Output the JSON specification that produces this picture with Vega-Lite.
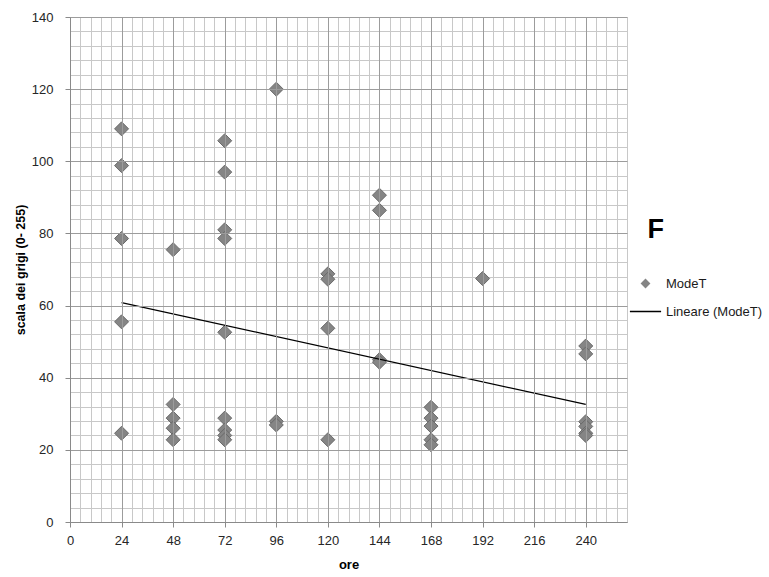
{
  "$schema": "https://vega.github.io/schema/vega-lite/v6.json",
  "width": 557,
  "height": 505,
  "autosize": {"type": "none"},
  "padding": {"left": 70, "top": 17, "right": 142, "bottom": 55},
  "background": "white",
  "config": {"view": {"stroke": null}, "font": "Liberation Sans"},
  "title": {"text": "F", "orient": "top", "anchor": "end", "frame": "group", "fontSize": 27, "fontWeight": "bold", "color": "#000000", "dx": 37, "dy": 260, "offset": 0, "baseline": "bottom"},
  "datasets": {
    "mode": [
      {"ore": 24, "valore": 109, "serie": "ModeT"},
      {"ore": 24, "valore": 98.8, "serie": "ModeT"},
      {"ore": 24, "valore": 78.6, "serie": "ModeT"},
      {"ore": 24, "valore": 55.5, "serie": "ModeT"},
      {"ore": 24, "valore": 24.6, "serie": "ModeT"},
      {"ore": 48, "valore": 75.5, "serie": "ModeT"},
      {"ore": 48, "valore": 32.6, "serie": "ModeT"},
      {"ore": 48, "valore": 28.8, "serie": "ModeT"},
      {"ore": 48, "valore": 26, "serie": "ModeT"},
      {"ore": 48, "valore": 22.8, "serie": "ModeT"},
      {"ore": 72, "valore": 105.7, "serie": "ModeT"},
      {"ore": 72, "valore": 97, "serie": "ModeT"},
      {"ore": 72, "valore": 81, "serie": "ModeT"},
      {"ore": 72, "valore": 78.6, "serie": "ModeT"},
      {"ore": 72, "valore": 52.6, "serie": "ModeT"},
      {"ore": 72, "valore": 28.8, "serie": "ModeT"},
      {"ore": 72, "valore": 25.5, "serie": "ModeT"},
      {"ore": 72, "valore": 24, "serie": "ModeT"},
      {"ore": 72, "valore": 22.8, "serie": "ModeT"},
      {"ore": 96, "valore": 120, "serie": "ModeT"},
      {"ore": 96, "valore": 27.9, "serie": "ModeT"},
      {"ore": 96, "valore": 26.9, "serie": "ModeT"},
      {"ore": 120, "valore": 68.8, "serie": "ModeT"},
      {"ore": 120, "valore": 67.3, "serie": "ModeT"},
      {"ore": 120, "valore": 53.7, "serie": "ModeT"},
      {"ore": 120, "valore": 22.8, "serie": "ModeT"},
      {"ore": 144, "valore": 90.6, "serie": "ModeT"},
      {"ore": 144, "valore": 86.4, "serie": "ModeT"},
      {"ore": 144, "valore": 45, "serie": "ModeT"},
      {"ore": 144, "valore": 44.3, "serie": "ModeT"},
      {"ore": 168, "valore": 31.8, "serie": "ModeT"},
      {"ore": 168, "valore": 28.8, "serie": "ModeT"},
      {"ore": 168, "valore": 26.6, "serie": "ModeT"},
      {"ore": 168, "valore": 22.8, "serie": "ModeT"},
      {"ore": 168, "valore": 21.4, "serie": "ModeT"},
      {"ore": 192, "valore": 67.5, "serie": "ModeT"},
      {"ore": 240, "valore": 48.8, "serie": "ModeT"},
      {"ore": 240, "valore": 46.6, "serie": "ModeT"},
      {"ore": 240, "valore": 27.8, "serie": "ModeT"},
      {"ore": 240, "valore": 26.5, "serie": "ModeT"},
      {"ore": 240, "valore": 24.6, "serie": "ModeT"},
      {"ore": 240, "valore": 24, "serie": "ModeT"}
    ],
    "trend": [
      {"ore": 24, "valore": 60.8, "serie": "Lineare (ModeT)"},
      {"ore": 240, "valore": 32.6, "serie": "Lineare (ModeT)"}
    ]
  },
  "layer": [
    {
      "data": {"name": "mode"},
      "mark": {"type": "point", "filled": true, "size": 196, "opacity": 1, "stroke": "#6a6a6a", "strokeWidth": 1},
      "encoding": {
        "x": {
          "field": "ore", "type": "quantitative",
          "scale": {"domain": [0, 259.2], "nice": false, "zero": false},
          "axis": {"orient": "bottom", "values": [0,4.8,9.6,14.4,19.2,24,28.8,33.6,38.4,43.2,48,52.8,57.6,62.4,67.2,72,76.8,81.6,86.4,91.2,96,100.8,105.6,110.4,115.2,120,124.8,129.6,134.4,139.2,144,148.8,153.6,158.4,163.2,168,172.8,177.6,182.4,187.2,192,196.8,201.6,206.4,211.2,216,220.8,225.6,230.4,235.2,240,244.8,249.6,254.4,259.2],
            "grid": true, "gridColor": "#c8c8c8", "gridWidth": 1, "gridOpacity": 1, "labels": false, "ticks": false, "domain": false, "title": null, "zindex": 0}
        },
        "y": {
          "field": "valore", "type": "quantitative",
          "scale": {"domain": [0, 140], "nice": false, "zero": false},
          "axis": {"orient": "left", "values": [0,4,8,12,16,20,24,28,32,36,40,44,48,52,56,60,64,68,72,76,80,84,88,92,96,100,104,108,112,116,120,124,128,132,136,140],
            "grid": true, "gridColor": "#c8c8c8", "gridWidth": 1, "gridOpacity": 1, "labels": false, "ticks": false, "domain": false, "title": null, "zindex": 0}
        },
        "color": {
          "field": "serie", "type": "nominal",
          "scale": {"domain": ["ModeT", "Lineare (ModeT)"], "range": ["#858585", "#000000"]},
          "legend": {"orient": "none", "legendX": 569, "legendY": 260, "title": null, "padding": 0, "symbolSize": 64, "labelFontSize": 13, "labelColor": "#1a1a1a", "labelOffset": 14, "rowPadding": 14, "symbolStrokeWidth": 1.3,
            "encode": {"symbols": {"update": {"stroke": {"signal": "scale('color', datum.value)"}}}}}
        },
        "shape": {
          "field": "serie", "type": "nominal",
          "scale": {"domain": ["ModeT", "Lineare (ModeT)"], "range": ["diamond", "M-3.9,0L3.9,0"]},
          "legend": {"orient": "none", "legendX": 569, "legendY": 260, "title": null, "padding": 0, "symbolSize": 64, "labelFontSize": 13, "labelColor": "#1a1a1a", "labelOffset": 14, "rowPadding": 14, "symbolStrokeWidth": 1.3,
            "encode": {"symbols": {"update": {"stroke": {"signal": "scale('color', datum.value)"}}}}}
        }
      }
    },
    {
      "data": {"name": "trend"},
      "mark": {"type": "line", "strokeWidth": 1.3},
      "encoding": {
        "x": {
          "field": "ore", "type": "quantitative",
          "axis": {"orient": "bottom", "values": [0,24,48,72,96,120,144,168,192,216,240], "format": "d",
            "grid": true, "gridColor": "#9c9c9c", "gridWidth": 1, "gridOpacity": 1,
            "domainColor": "#8a8a8a", "tickColor": "#8a8a8a", "tickSize": 5, "labelFlush": false,
            "labelFontSize": 13, "labelColor": "#262626", "labelPadding": 7,
            "title": "ore", "titleFontSize": 13, "titleFontWeight": "bold", "titleColor": "#000000", "titlePadding": 11, "zindex": 1}
        },
        "y": {
          "field": "valore", "type": "quantitative",
          "axis": {"orient": "left", "values": [0,20,40,60,80,100,120,140], "format": "d",
            "grid": true, "gridColor": "#9c9c9c", "gridWidth": 1, "gridOpacity": 1,
            "domainColor": "#8a8a8a", "tickColor": "#8a8a8a", "tickSize": 5, "labelFlush": false,
            "labelFontSize": 13, "labelColor": "#262626", "labelPadding": 12,
            "title": "scala dei grigi (0- 255)", "titleFontSize": 12.5, "titleFontWeight": "bold", "titleColor": "#000000", "titlePadding": 4, "zindex": 1}
        },
        "color": {"field": "serie", "type": "nominal"}
      }
    }
  ],
  "resolve": {"axis": {"x": "independent", "y": "independent"}}
}
